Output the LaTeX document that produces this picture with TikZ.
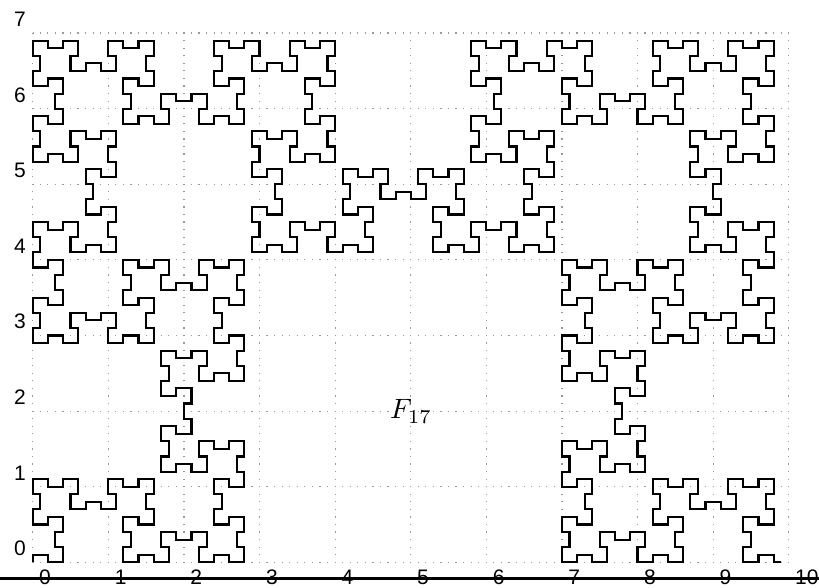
\documentclass[tikz,border=0pt]{standalone}
\usepackage{fontspec}
\setsansfont{Liberation Sans}
\newcount\fibN \newcount\fibX \newcount\fibY \newcount\fibDX \newcount\fibDY \newcount\fibT
\newtoks\fibPath
% Fibonacci word of length 1597
\def\fibA{0}\def\fibB{01}
\newcount\fibI
\fibI=0
\loop\ifnum\fibI<14
  \edef\fibC{\fibB\fibA}\let\fibA\fibB\let\fibB\fibC
  \advance\fibI by 1
\repeat
\def\fibEmit{\edef\fibTmp{\the\fibPath -- (\the\fibX,\the\fibY)}\fibPath=\expandafter{\fibTmp}}
\def\fibWalk#1{\ifx#1\relax\else
  \advance\fibN by 1
  \advance\fibX by \fibDX \advance\fibY by \fibDY
  \if#10
    \fibEmit
    \fibT=\fibDX
    \ifodd\fibN
      \fibDX=\fibDY \fibDY=-\fibT
    \else
      \fibDX=-\fibDY \fibDY=\fibT
    \fi
  \fi
  \expandafter\fibWalk\fi}
\fibN=0 \fibX=0 \fibY=0 \fibDX=0 \fibDY=1
\expandafter\fibWalk\fibB\relax
\fibEmit
\edef\fibFull{\the\fibPath}
\tikzset{
  griddots/.style={draw=black!40,line width=1.2pt,dash pattern=on 1.2pt off 6.36pt,dash phase=0.6pt},
  curveline/.style={draw=black,line width=2.1pt,line join=miter,line cap=butt},
  ticklab/.style={font=\sffamily\fontsize{21}{21}\selectfont,inner sep=0pt,text=black,anchor=west},
}
\begin{document}
\begin{tikzpicture}[x=1pt,y=1pt]
\useasboundingbox (0,0) rectangle (819,587);
% grid
\begin{scope}[shift={(32.7,24.7)},x=75.6pt,y=75.6pt]
  \foreach \i in {0,...,10} \draw[griddots] (\i,0) -- (\i,7);
  \foreach \j in {0,...,7} \draw[griddots] (0,\j) -- (10,\j);
\end{scope}
% curve
\begin{scope}[shift={(32.7,24.7)},x=7.56pt,y=7.56pt]
  \draw[curveline] (0,0) \fibFull;
\end{scope}
% base line
\coordinate (bl) at (0,8.7);
\coordinate (br) at (819,8.7);
\draw[black,line width=2.8pt] (bl) -- (br);
% x labels
\foreach \i in {0,...,10} \node[ticklab] (xl\i) at (39+75.6*\i,10) {\i};
% y labels
\foreach \j in {0,...,7} \node[ticklab] (yl\j) at (14,38.5+75.6*\j) {\j};
\node[inner sep=0pt,scale=2.8] (flabel) at (411,175.5) {$F_{17}$};
\end{tikzpicture}
\end{document}
